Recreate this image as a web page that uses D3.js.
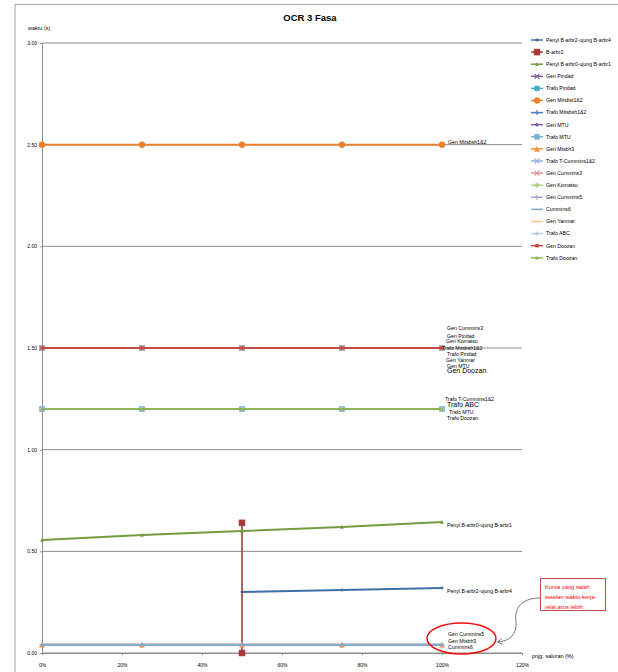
<!DOCTYPE html>
<html>
<head>
<meta charset="utf-8">
<script src="https://cdn.jsdelivr.net/npm/d3@7"></script>
<style>
  body { margin: 0; background: #fff; }
  svg { display: block; font-family: "Liberation Sans Narrow", "Liberation Sans", Arial, sans-serif; }
</style>
</head>
<body>
<svg id="viz" width="618" height="672"></svg>
<script>
// data
const xPct = [0, 0.25, 0.5, 0.75, 1.0];
const seriesNames = [
  "Penyl.B-arbr2-ujung B-arbr4", "B-arbr2", "Penyl.B-arbr0-ujung B-arbr1", "Gen Pindad", "Trafo Pindad",
  "Gen Mitsbsi1&2", "Trafo Mitsbsh1&2", "Gen MTU", "Trafo MTU", "Gen Mtsbh3",
  "Trafo T-Cummins1&2", "Gen Cummins3", "Gen Komatsu", "Gen Cummins5", "Cummins6",
  "Gen Yanmar", "Trafo ABC", "Gen Doozan", "Trafo Doozan"
];
const seriesX = [
  [0.5, 0.75, 1.0], [0.5, 0.5], xPct, xPct, xPct,
  xPct, xPct, xPct, xPct, xPct,
  xPct, xPct, xPct, xPct, xPct,
  xPct, xPct, xPct, xPct
];
const seriesY = [
  [0.30, 0.31, 0.32],
  [0.64, 0.0],
  [0.556, 0.58, 0.60, 0.62, 0.644],
  [1.5, 1.5, 1.5, 1.5, 1.5],
  [1.5, 1.5, 1.5, 1.5, 1.5],
  [2.5, 2.5, 2.5, 2.5, 2.5],
  [1.5, 1.5, 1.5, 1.5, 1.5],
  [1.5, 1.5, 1.5, 1.5, 1.5],
  [1.2, 1.2, 1.2, 1.2, 1.2],
  [0.04, 0.04, 0.04, 0.04, 0.04],
  [1.2, 1.2, 1.2, 1.2, 1.2],
  [1.5, 1.5, 1.5, 1.5, 1.5],
  [1.5, 1.5, 1.5, 1.5, 1.5],
  [0.04, 0.04, 0.04, 0.04, 0.04],
  [0.04, 0.04, 0.04, 0.04, 0.04],
  [1.5, 1.5, 1.5, 1.5, 1.5],
  [1.2, 1.2, 1.2, 1.2, 1.2],
  [1.5, 1.5, 1.5, 1.5, 1.5],
  [1.2, 1.2, 1.2, 1.2, 1.2]
];
const yTicks = [0, 0.5, 1.0, 1.5, 2.0, 2.5, 3.0];
const xTicks = [0, 0.2, 0.4, 0.6, 0.8, 1.0, 1.2];

// end-of-line labels: text, series index it sits by
const endLabels = [
  ["Gen Mitsbsh1&2", 5], ["Gen Cummins3", 11], ["Gen Pindad", 3], ["Gen Komatsu", 12],
  ["Trafo Mitsbsh1&2", 6], ["Trafo Pindad", 4], ["Gen Yanmar", 15], ["Gen MTU", 7], ["Gen Doozan", 17],
  ["Trafo T-Cummins1&2", 10], ["Trafo ABC", 16], ["Trafo MTU", 8], ["Trafo Doozan", 18],
  ["Penyl.B-arbr0-ujung B-arbr1", 2], ["Penyl.B-arbr2-ujung B-arbr4", 0],
  ["Gen Cummins5", 13], ["Gen Mtsbh3", 9], ["Cummins6", 14]
];
const noteLines = ["Kurva yang salah", "setelan waktu kerja", "relai arus lebih"];

// styling
const colors = [
  "#3f6fa8", "#a83a37", "#789a3e", "#7d60a0", "#46aac5",
  "#e8802f", "#4a7ebb", "#7d60a0", "#6fb3cc", "#f0903e",
  "#95b3d7", "#d99694", "#b5cf85", "#b3a2c7", "#7eaacb",
  "#fac090", "#b9cde5", "#c44a47", "#8fb65a"
];
const markers = [
  "diamond", "square", "triangle", "x", "xsquare",
  "circle", "plus", "diamond", "square", "triangle",
  "x", "x", "circle", "plus", "dash",
  "dash", "diamond", "square", "triangle"
];
const markerSize = [3, 6, 3, 5, 4, 6, 5, 4, 5, 5, 5, 5, 4, 5, 5, 5, 4, 3, 3];
// pixel offsets of the end labels from the last point
const labelOffset = [
  [6, -2], [5, -20], [5, -12], [4, -7], [0, 0], [5, 6], [4, 12], [5, 18], [5, 23],
  [3, -10], [5, -4], [7, 3], [5, 9], [5, 3], [5, 3], [6, -11], [6, -4], [6, 2]
];

const svg = d3.select("#viz");
const x = d3.scaleLinear().domain([0, 1.2]).range([42, 522]);
const y = d3.scaleLinear().domain([0, 3]).range([653, 43]);

// outer chart frame
svg.append("path").attr("d", "M15,672 V4.5 H618").attr("fill", "none").attr("stroke", "#a6a6a6").attr("stroke-width", 1);

svg.append("text").attr("x", 310).attr("y", 21).attr("text-anchor", "middle")
  .attr("font-size", 9.5).attr("font-weight", "bold").attr("fill", "#000").text("OCR 3 Fasa");
svg.append("text").attr("x", 28).attr("y", 30).attr("font-size", 5.5).attr("fill", "#000").text("waktu (s)");
svg.append("text").attr("x", 532).attr("y", 658).attr("font-size", 5.5).attr("fill", "#000").text("pnjg. saluran (%)");

// gridlines
svg.append("g").selectAll("line").data(yTicks).join("line")
  .attr("x1", x(0)).attr("x2", x(1.2)).attr("y1", (d) => y(d)).attr("y2", (d) => y(d))
  .attr("stroke", "#8c8c8c").attr("stroke-width", 1);

// axes
const yAxis = svg.append("g").attr("transform", `translate(${x(0)},0)`)
  .call(d3.axisLeft(y).tickValues(yTicks).tickSize(2).tickPadding(3).tickFormat(d3.format(".2f")));
const xAxis = svg.append("g").attr("transform", `translate(0,${y(0)})`)
  .call(d3.axisBottom(x).tickValues(xTicks).tickSize(2).tickPadding(8).tickFormat(d3.format(".0%")));
[yAxis, xAxis].forEach((g) => {
  g.select(".domain").attr("stroke", "#8c8c8c");
  g.selectAll(".tick line").attr("stroke", "#8c8c8c");
  g.selectAll("text").attr("font-size", 5).attr("fill", "#000").attr("font-family", "inherit");
});

function markerPath(type, s) {
  const h = s / 2;
  switch (type) {
    case "diamond": return `M0,${-h}L${h},0L0,${h}L${-h},0Z`;
    case "square": return `M${-h},${-h}H${h}V${h}H${-h}Z`;
    case "triangle": return `M0,${-h}L${h},${h}H${-h}Z`;
    case "circle": return d3.symbol(d3.symbolCircle, s * s * 0.8)();
    case "x": return `M${-h},${-h}L${h},${h}M${-h},${h}L${h},${-h}`;
    case "plus": return `M${-h},0H${h}M0,${-h}V${h}`;
    case "xsquare": return `M${-h},${-h}H${h}V${h}H${-h}ZM${-h},${-h}L${h},${h}M${-h},${h}L${h},${-h}`;
    case "dash": return `M${-h},0H${h}`;
  }
}
const filled = (t) => ["diamond", "square", "triangle", "circle"].includes(t);

function drawMarker(g, i, cx, cy) {
  const t = markers[i];
  g.append("path").attr("transform", `translate(${cx},${cy})`)
    .attr("d", markerPath(t, markerSize[i]))
    .attr("fill", filled(t) ? colors[i] : "none")
    .attr("stroke", colors[i]).attr("stroke-width", filled(t) ? 0.5 : 1.2);
}

// series
const line = d3.line().x((d) => x(d[0])).y((d) => y(d[1]));
const plot = svg.append("g");
seriesNames.forEach((name, i) => {
  const pts = seriesX[i].map((xv, j) => [xv, seriesY[i][j]]);
  plot.append("path").datum(pts).attr("d", line).attr("fill", "none")
    .attr("stroke", colors[i]).attr("stroke-width", i === 1 ? 1.6 : 2);
  pts.forEach((p) => drawMarker(plot, i, x(p[0]), y(p[1])));
});

// end labels
const lab = svg.append("g");
endLabels.forEach(([txt, si], k) => {
  const n = seriesX[si].length - 1;
  const big = txt === "Gen Doozan" || txt === "Trafo ABC";
  lab.append("text")
    .attr("x", x(seriesX[si][n]) + labelOffset[k][0])
    .attr("y", y(seriesY[si][n]) + labelOffset[k][1])
    .attr("dy", "0.35em")
    .attr("font-size", big ? 7 : 5.2).attr("fill", "#000").text(txt);
});

// legend
const legend = svg.append("g");
seriesNames.forEach((name, i) => {
  const ly = 40 + i * 12.1;
  legend.append("line").attr("x1", 531).attr("x2", 543).attr("y1", ly).attr("y2", ly)
    .attr("stroke", colors[i]).attr("stroke-width", 1.5);
  drawMarker(legend, i, 537, ly);
  legend.append("text").attr("x", 546).attr("y", ly).attr("dy", "0.35em")
    .attr("font-size", 5.2).attr("fill", "#000").text(name);
});

// annotation
const note = svg.append("g");
note.append("rect").attr("x", 540.5).attr("y", 578.5).attr("width", 65).attr("height", 32)
  .attr("fill", "#fff").attr("stroke", "#c0504d").attr("stroke-width", 1);
noteLines.forEach((t, k) => {
  note.append("text").attr("x", 545).attr("y", 587 + k * 9.8).attr("dy", "0.35em")
    .attr("font-size", 5.8).attr("fill", "#ff0000").text(t);
});
note.append("ellipse").attr("cx", 461.5).attr("cy", 638.5).attr("rx", 34.5).attr("ry", 15.5)
  .attr("fill", "none").attr("stroke", "#ee1111").attr("stroke-width", 1.5);
note.append("path").attr("d", "M540,598 C520,598 514,610 516,622 C517,634 510,641 498,642")
  .attr("fill", "none").attr("stroke", "#404040").attr("stroke-width", 0.7);
note.append("path").attr("d", "M502,638.5 L497.5,642 L502.5,644.5")
  .attr("fill", "none").attr("stroke", "#404040").attr("stroke-width", 0.7);
</script>
</body>
</html>
